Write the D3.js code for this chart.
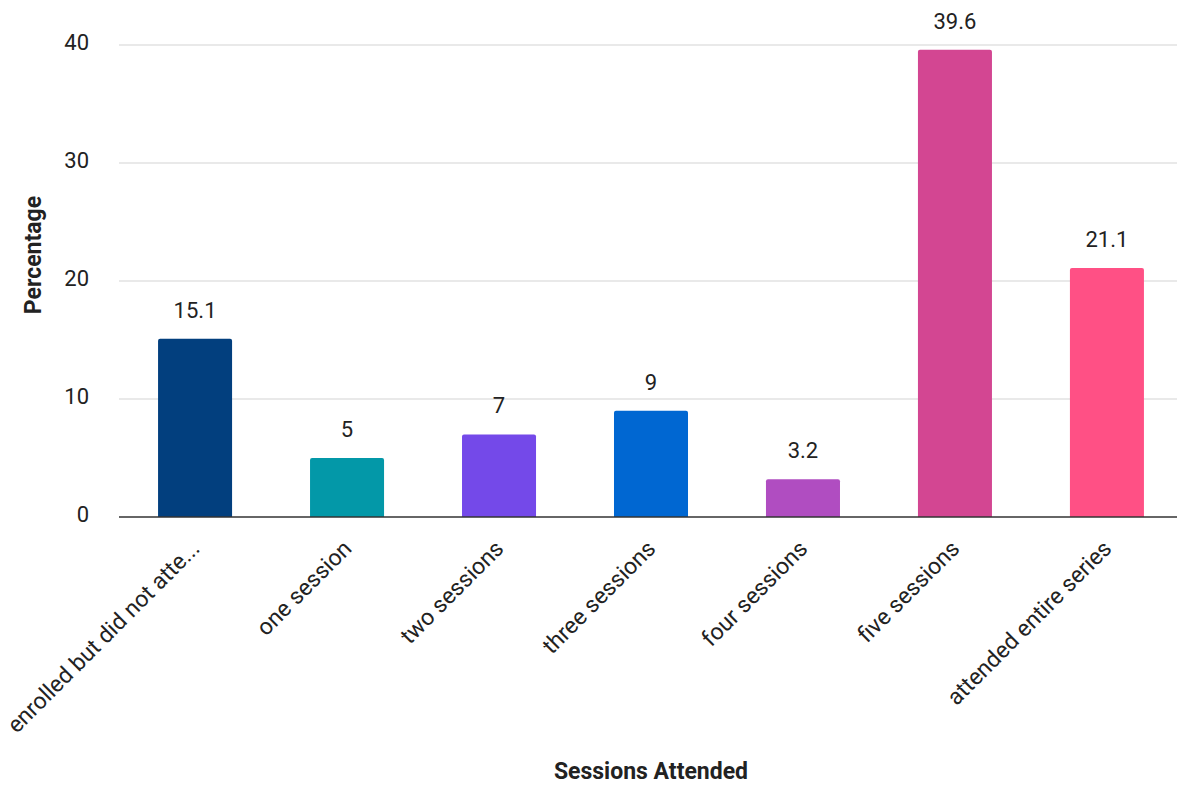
<!DOCTYPE html>
<html>
<head>
<meta charset="utf-8">
<script src="https://cdn.jsdelivr.net/npm/d3@7"></script>
<style>
  body { margin: 0; background: #fff; }
  text { font-family: Roboto, "Noto Sans", sans-serif; fill: #222; }
</style>
</head>
<body>
<div id="wrapper"></div>
<script>
const categories = [
    "enrolled but did not atte...",
    "one session",
    "two sessions",
    "three sessions",
    "four sessions",
    "five sessions",
    "attended entire series",
]
const values = [15.1, 5, 7, 9, 3.2, 39.6, 21.1]
const barColors = ["#023f7e", "#0398a8", "#7449e9", "#0067d2", "#b04dc1", "#d34692", "#ff5085"]
const yTicks = [0, 10, 20, 30, 40]

function drawBars() {
    const dimensions = {
        width: 1177,
        height: 785,
        margin: { top: 45, right: -6, bottom: 268, left: 119 },
    }
    dimensions.boundedWidth = dimensions.width - dimensions.margin.left - dimensions.margin.right
    dimensions.boundedHeight = dimensions.height - dimensions.margin.top - dimensions.margin.bottom

    const wrapper = d3.select("#wrapper")
        .append("svg")
        .attr("width", dimensions.width)
        .attr("height", dimensions.height)

    const bounds = wrapper.append("g")
        .attr("transform", `translate(${dimensions.margin.left},${dimensions.margin.top})`)

    const xScale = d3.scaleBand()
        .domain(categories)
        .range([0, dimensions.boundedWidth])
        .paddingInner(0.513)
        .paddingOuter(0.257)

    const yScale = d3.scaleLinear()
        .domain([0, 40])
        .range([dimensions.boundedHeight, 0])

    // gridlines
    bounds.append("g")
        .selectAll("line")
        .data(yTicks.slice(1))
        .join("line")
        .attr("x1", 0)
        .attr("x2", dimensions.width - dimensions.margin.left)
        .attr("y1", d => yScale(d))
        .attr("y2", d => yScale(d))
        .attr("stroke", "#e2e2e2")
        .attr("stroke-width", 1.5)

    // y axis labels
    const yAxis = d3.axisLeft(yScale).tickValues(yTicks).tickSize(0).tickPadding(30)
    const yAxisGroup = bounds.append("g").call(yAxis)
    yAxisGroup.select(".domain").remove()
    yAxisGroup.selectAll("text")
        .style("font-size", "22px")
        .style("font-family", "Roboto, sans-serif")
        .attr("fill", "#222")
        .attr("dy", "0.22em")

    const data = categories.map((c, i) => ({ cat: c, value: values[i], color: barColors[i] }))

    bounds.selectAll("path.bar")
        .data(data)
        .join("path")
        .attr("class", "bar")
        .attr("fill", d => d.color)
        .attr("d", d => {
            const x = xScale(d.cat), w = xScale.bandwidth()
            const y = yScale(d.value), h = yScale(0) - y, r = 2
            return `M${x},${y + h}V${y + r}Q${x},${y} ${x + r},${y}H${x + w - r}Q${x + w},${y} ${x + w},${y + r}V${y + h}Z`
        })

    // value labels
    bounds.selectAll("text.value")
        .data(data)
        .join("text")
        .attr("class", "value")
        .attr("x", d => xScale(d.cat) + xScale.bandwidth() / 2)
        .attr("y", d => yScale(d.value) - 21)
        .attr("text-anchor", "middle")
        .style("font-size", "22px")
        .text(d => d.value)

    // baseline
    bounds.append("line")
        .attr("x1", 0)
        .attr("x2", dimensions.width - dimensions.margin.left)
        .attr("y1", yScale(0))
        .attr("y2", yScale(0))
        .attr("stroke", "#333")
        .attr("stroke-width", 1.5)

    // x axis labels
    const xAxis = d3.axisBottom(xScale).tickSize(0)
    const xAxisGroup = bounds.append("g")
        .attr("transform", `translate(0,${dimensions.boundedHeight})`)
        .call(xAxis)
    xAxisGroup.select(".domain").remove()
    xAxisGroup.selectAll(".tick text")
        .attr("text-anchor", "end")
        .attr("x", 0)
        .attr("y", 0)
        .attr("dy", 0)
        .attr("transform", "translate(6,33) rotate(-45)")
        .style("font-size", "23px")
        .style("font-family", "Roboto, sans-serif")
        .attr("fill", "#222")

    // axis titles
    wrapper.append("text")
        .attr("x", 651)
        .attr("y", 779)
        .attr("text-anchor", "middle")
        .style("font-size", "23px")
        .style("font-weight", "bold")
        .text("Sessions Attended")

    wrapper.append("text")
        .attr("transform", "translate(41,255) rotate(-90)")
        .attr("text-anchor", "middle")
        .style("font-size", "23px")
        .style("font-weight", "bold")
        .text("Percentage")
}

drawBars()
</script>
</body>
</html>
